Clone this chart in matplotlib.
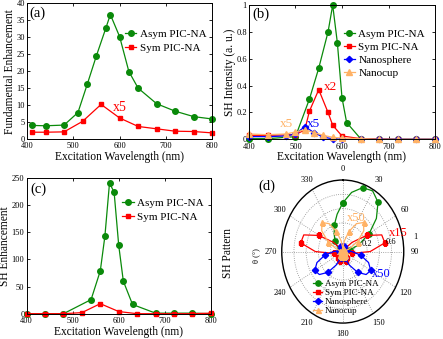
import matplotlib
matplotlib.use('Agg')
import matplotlib.pyplot as plt
import numpy as np

plt.rcParams['font.family'] = ['Liberation Serif', 'DejaVu Serif']

GREEN = '#0a8a0a'
RED = '#ff0000'
BLUE = '#0000ff'
ORANGE = '#ffb266'

# (a) fundamental enhancement
a_asym_x = [410, 440, 480, 510, 530, 550, 570, 580, 600, 620, 640, 680, 720, 760, 800]
a_asym_y = [4.0, 3.9, 4.1, 7.8, 16.1, 24.6, 32.6, 36.7, 30.2, 19.9, 15.0, 10.4, 8.2, 6.6, 5.9]
a_sym_x = [410, 440, 480, 520, 560, 600, 640, 680, 720, 760, 800]
a_sym_y = [2.0, 2.0, 2.1, 5.2, 10.2, 6.2, 3.7, 3.0, 2.3, 2.2, 1.8]

# (b) SH intensity
b_asym_x = [400, 440, 500, 530, 550, 570, 580, 590, 600, 610, 640, 680, 720, 760, 800]
b_asym_y = [0.005, 0.005, 0.02, 0.30, 0.53, 0.80, 1.0, 0.72, 0.31, 0.125, 0.005, 0.0, 0.0, 0.0, 0.0]
b_sym_x = [400, 440, 500, 520, 530, 550, 570, 580, 600, 640, 680, 720, 760, 800]
b_sym_y = [0.03, 0.03, 0.035, 0.07, 0.21, 0.37, 0.20, 0.105, 0.025, 0.005, 0.002, 0.0, 0.0, 0.0]
b_sph_x = [400, 440, 480, 500, 520, 540, 560, 580, 600, 640, 680, 720, 760, 800]
b_sph_y = [0.02, 0.02, 0.025, 0.04, 0.095, 0.05, 0.015, 0.005, 0.0, 0.0, 0.0, 0.0, 0.0, 0.0]
b_cup_x = [400, 440, 480, 500, 520, 540, 560, 580, 600, 640, 680, 720, 760, 800]
b_cup_y = [0.04, 0.035, 0.04, 0.055, 0.07, 0.05, 0.03, 0.015, 0.01, 0.005, 0.0, 0.0, 0.0, 0.0]

# (c) SH enhancement
c_asym_x = [400, 440, 480, 540, 560, 570, 580, 590, 600, 610, 630, 680, 720, 760, 800]
c_asym_y = [0, 0, 0, 26, 79, 143, 241, 224, 126, 60, 17, 1, 1, 1, 0]
c_sym_x = [400, 440, 480, 520, 560, 600, 640, 680, 720, 760, 800]
c_sym_y = [0, 0, 0, 2, 18.5, 4, 0, 0, 0, 0, 1]

# (d) SH pattern, angle in degrees (clockwise from top)
d_theta = list(range(0, 370, 10))
d_asym = [0.68, 0.84, 0.95, 0.98, 0.90, 0.72, 0.50, 0.28, 0.12, 0.05, 0.03, 0.02,
          0.02, 0.02, 0.02, 0.03, 0.05, 0.07, 0.08, 0.10, 0.12, 0.12, 0.10, 0.06,
          0.03, 0.02, 0.02, 0.02, 0.02, 0.03, 0.06, 0.12, 0.20, 0.28, 0.40, 0.53, 0.68]
d_sym = [0.02, 0.02, 0.02, 0.02, 0.05, 0.20, 0.45, 0.68, 0.70, 0.45, 0.15, 0.05,
         0.05, 0.08, 0.12, 0.15, 0.14, 0.08, 0.03, 0.08, 0.14, 0.15, 0.12, 0.08,
         0.05, 0.05, 0.15, 0.45, 0.70, 0.68, 0.45, 0.20, 0.05, 0.02, 0.02, 0.02, 0.02]
d_sph = [0.03, 0.06, 0.08, 0.07, 0.04, 0.02, 0.02, 0.03, 0.06, 0.15, 0.30, 0.45,
         0.53, 0.50, 0.38, 0.22, 0.10, 0.04, 0.02, 0.04, 0.10, 0.22, 0.38, 0.50,
         0.53, 0.45, 0.30, 0.15, 0.06, 0.03, 0.02, 0.02, 0.04, 0.07, 0.08, 0.06, 0.03]
d_cup = [0.05, 0.15, 0.30, 0.45, 0.53, 0.45, 0.28, 0.12, 0.04, 0.02, 0.02, 0.02,
         0.03, 0.05, 0.07, 0.08, 0.07, 0.05, 0.04, 0.05, 0.07, 0.08, 0.07, 0.05,
         0.03, 0.02, 0.02, 0.02, 0.04, 0.12, 0.28, 0.45, 0.53, 0.45, 0.30, 0.15, 0.05]

LW = 0.9
TICK_FS = 6
LABEL_FS = 8.3
LEG_FS = 8


def style_ax(ax):
    ax.tick_params(direction='in', top=True, right=True, length=2.5, width=0.6,
                   labelsize=TICK_FS, pad=1.5)
    ax.tick_params(axis='x', pad=2.5)
    for s in ax.spines.values():
        s.set_linewidth(0.7)
    ax.set_xlim(400, 800)
    ax.set_xticks([400, 500, 600, 700, 800])
    ax.set_xlabel('Excitation Wavelength (nm)', fontsize=LABEL_FS, labelpad=0.5)


fig = plt.figure(figsize=(4.43, 3.39), dpi=100)

# ---- (a)
ax = fig.add_axes([0.061, 0.59, 0.418, 0.40])
ax.plot(a_asym_x, a_asym_y, '-o', color=GREEN, lw=LW, ms=4, label='Asym PIC-NA', clip_on=False)
ax.plot(a_sym_x, a_sym_y, '-s', color=RED, lw=LW, ms=3.5, label='Sym PIC-NA', clip_on=False)
style_ax(ax)
ax.set_ylim(0, 40)
ax.set_yticks(range(0, 41, 5))
ax.set_ylabel('Fundamental Enhancement', fontsize=LABEL_FS, labelpad=0.5)
ax.text(586, 9.4, 'x5', color=RED, fontsize=10, va='center')
ax.text(0.015, 0.975, '(a)', transform=ax.transAxes, fontsize=10.5, va='top')
ax.legend(loc='upper left', bbox_to_anchor=(0.53, 0.81), frameon=False, fontsize=LEG_FS,
          handlelength=1.0, handletextpad=0.3, labelspacing=0.4, borderpad=0, borderaxespad=0)

# ---- (b)
ax = fig.add_axes([0.562, 0.589, 0.42, 0.396])
ax.plot(b_asym_x, b_asym_y, '-o', color=GREEN, lw=LW, ms=4, label='Asym PIC-NA', clip_on=False)
ax.plot(b_sym_x, b_sym_y, '-s', color=RED, lw=LW, ms=3.5, label='Sym PIC-NA', clip_on=False)
ax.plot(b_sph_x, b_sph_y, '-D', color=BLUE, lw=LW, ms=3.2, label='Nanosphere', clip_on=False)
ax.plot(b_cup_x, b_cup_y, '-^', color=ORANGE, lw=LW, ms=3.8, label='Nanocup', clip_on=False)
style_ax(ax)
ax.set_ylim(0, 1)
ax.set_yticks([0, 0.2, 0.4, 0.6, 0.8, 1])
ax.set_yticklabels(['0', '0.2', '0.4', '0.6', '0.8', '1'])
ax.set_ylabel('SH Intensity (a. u.)', fontsize=LABEL_FS, labelpad=0.5)
ax.text(561, 0.387, 'x2', color=RED, fontsize=9.5, va='center')
ax.text(524, 0.114, 'x5', color=BLUE, fontsize=9.5, va='center')
ax.text(467, 0.114, 'x5', color=ORANGE, fontsize=9.5, va='center')
ax.text(0.02, 0.985, '(b)', transform=ax.transAxes, fontsize=10.5, va='top')
ax.legend(loc='upper left', bbox_to_anchor=(0.51, 0.82), frameon=False, fontsize=LEG_FS,
          handlelength=1.0, handletextpad=0.3, labelspacing=0.28, borderpad=0, borderaxespad=0)

# ---- (c)
ax = fig.add_axes([0.06, 0.0746, 0.416, 0.40])
ax.plot(c_asym_x, c_asym_y, '-o', color=GREEN, lw=LW, ms=4, label='Asym PIC-NA', clip_on=False)
ax.plot(c_sym_x, c_sym_y, '-s', color=RED, lw=LW, ms=3.5, label='Sym PIC-NA', clip_on=False)
style_ax(ax)
ax.set_ylim(0, 250)
ax.set_yticks(range(0, 251, 50))
ax.set_ylabel('SH Enhancement', fontsize=LABEL_FS, labelpad=0.5)
ax.text(0.02, 0.97, '(c)', transform=ax.transAxes, fontsize=10.5, va='top')
ax.legend(loc='upper left', bbox_to_anchor=(0.52, 0.855), frameon=False, fontsize=LEG_FS,
          handlelength=1.0, handletextpad=0.3, labelspacing=0.4, borderpad=0, borderaxespad=0)

# ---- (d) polar
ax = fig.add_axes([0.636, 0.047, 0.2754, 0.422], projection='polar')
ax.set_aspect('auto')
ax.set_theta_zero_location('N')
ax.set_theta_direction(-1)
th = np.deg2rad(d_theta)
ax.plot(th, d_asym, '-o', color=GREEN, lw=LW, ms=3.8, markevery=2, label='Asym PIC-NA')
ax.plot(th, d_sym, '-s', color=RED, lw=LW, ms=3.4, markevery=2, label='Sym PIC-NA')
ax.plot(th, d_sph, '-D', color=BLUE, lw=LW, ms=3.2, markevery=2, label='Nanosphere')
ax.plot(th, d_cup, '-^', color=ORANGE, lw=LW, ms=3.6, markevery=2, label='Nanocup')
ax.set_ylim(0, 1)
ax.set_rticks([0.2, 0.4, 0.6, 0.8])
ax.set_yticklabels([])
ax.set_thetagrids(range(0, 360, 30), [str(a) for a in range(0, 360, 30)], fontsize=6)
ax.tick_params(axis='x', pad=-2.5)
ax.grid(True, linestyle=':', color='0.55', lw=0.6)
ax.spines['polar'].set_linewidth(1.0)
for txt, ang, rr in [('0.2', 72, 0.33), ('0.6', 79, 0.72), ('1', 80, 1.18)]:
    ax.text(np.deg2rad(ang), rr, txt, fontsize=6, ha='left', va='center', clip_on=False)
ax.legend(loc='upper left', bbox_to_anchor=(0.26, 0.30), frameon=False, fontsize=6.5,
          handlelength=1.0, handletextpad=0.3, labelspacing=0.05, borderpad=0, borderaxespad=0)

fig.text(228 / 443, 1 - 253 / 339, 'SH Pattern', rotation=90, fontsize=LABEL_FS,
         ha='center', va='center')
fig.text(256 / 443, 1 - 256 / 339, 'θ (°)', rotation=90, fontsize=6, ha='center', va='center')
fig.text(258 / 443, 1 - 180 / 339, '(d)', fontsize=10.5, va='top')
fig.text(347 / 443, 1 - 218 / 339, 'x50', color=ORANGE, fontsize=9, va='center')
fig.text(389 / 443, 1 - 233 / 339, 'x15', color=RED, fontsize=9, va='center')
fig.text(372 / 443, 1 - 274 / 339, 'x50', color=BLUE, fontsize=9, va='center')

fig.savefig('out.png', dpi=100)
